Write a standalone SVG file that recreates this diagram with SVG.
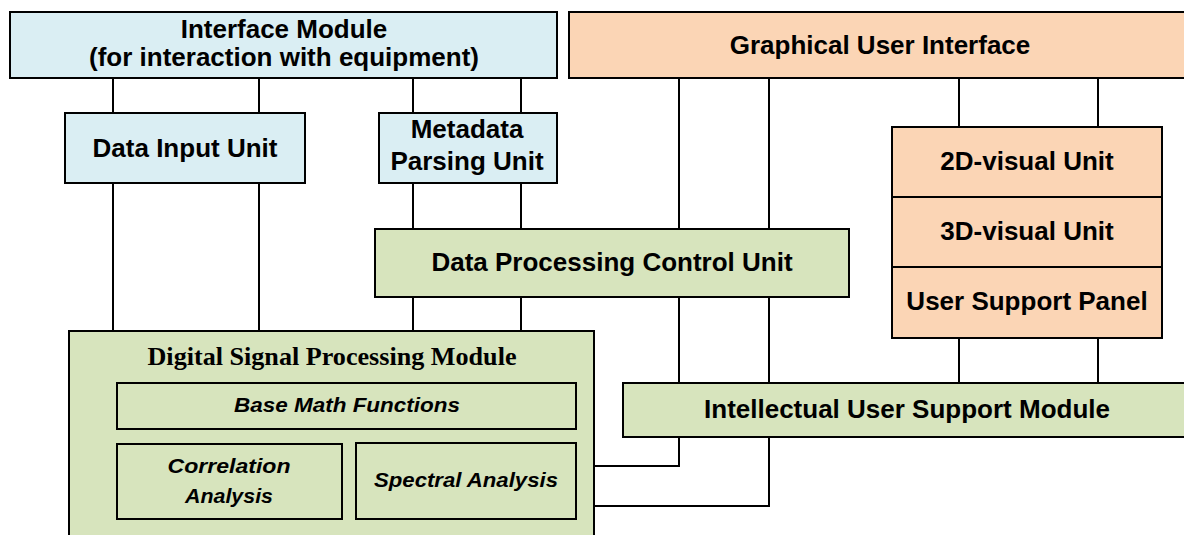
<svg xmlns="http://www.w3.org/2000/svg" width="1184" height="535" viewBox="0 0 1184 535">
<style>
.b{stroke:#000;stroke-width:2}
.blue{fill:#DAEEF3}
.org{fill:#FBD5B5}
.grn{fill:#D7E4BD}
text{font-family:"Liberation Sans",Arial,sans-serif;font-weight:bold;font-size:26px;text-anchor:middle;fill:#000}
.it{font-style:italic;font-size:20px}
.serif{font-family:"Liberation Serif","Times New Roman",serif;font-size:26px}
.ln{stroke:#000;stroke-width:2;fill:none}
</style>
<rect width="1184" height="535" fill="#fff"/>
<g id="connectors">
<line class="ln" x1="113" y1="78" x2="113" y2="113"/>
<line class="ln" x1="259" y1="78" x2="259" y2="113"/>
<line class="ln" x1="413" y1="78" x2="413" y2="113"/>
<line class="ln" x1="521" y1="78" x2="521" y2="113"/>
<line class="ln" x1="113" y1="183" x2="113" y2="331"/>
<line class="ln" x1="259" y1="183" x2="259" y2="331"/>
<line class="ln" x1="413" y1="183" x2="413" y2="229"/>
<line class="ln" x1="521" y1="183" x2="521" y2="229"/>
<line class="ln" x1="413" y1="297" x2="413" y2="331"/>
<line class="ln" x1="521" y1="297" x2="521" y2="331"/>
<line class="ln" x1="679" y1="78" x2="679" y2="229"/>
<line class="ln" x1="769" y1="78" x2="769" y2="229"/>
<line class="ln" x1="679" y1="297" x2="679" y2="383"/>
<line class="ln" x1="769" y1="297" x2="769" y2="383"/>
<line class="ln" x1="959" y1="78" x2="959" y2="127"/>
<line class="ln" x1="1098" y1="78" x2="1098" y2="127"/>
<line class="ln" x1="959" y1="338" x2="959" y2="383"/>
<line class="ln" x1="1098" y1="338" x2="1098" y2="383"/>
<polyline class="ln" points="679,437 679,466 594,466"/>
<polyline class="ln" points="769,437 769,506 594,506"/>
</g>
<g id="interface-module">
<rect class="b blue" x="10" y="12" width="547" height="66"/>
<text x="284" y="38">Interface Module</text>
<text x="284" y="66">(for interaction with equipment)</text>
</g>
<g id="gui">
<rect class="b org" x="569" y="12" width="620" height="66"/>
<text x="880" y="54">Graphical User Interface</text>
</g>
<g id="data-input-unit">
<rect class="b blue" x="65" y="113" width="240" height="70"/>
<text x="185" y="157">Data Input Unit</text>
</g>
<g id="metadata-parsing-unit">
<rect class="b blue" x="379" y="113" width="178" height="70"/>
<text x="467" y="138">Metadata</text>
<text x="467" y="170">Parsing Unit</text>
</g>
<g id="visual-2d">
<rect class="b org" x="892" y="127" width="270" height="70"/>
<text x="1027" y="170">2D-visual Unit</text>
</g>
<g id="visual-3d">
<rect class="b org" x="892" y="197" width="270" height="70"/>
<text x="1027" y="240">3D-visual Unit</text>
</g>
<g id="user-support-panel">
<rect class="b org" x="892" y="267" width="270" height="71"/>
<text x="1027" y="310">User Support Panel</text>
</g>
<g id="dpcu">
<rect class="b grn" x="375" y="229" width="474" height="68"/>
<text x="612" y="271">Data Processing Control Unit</text>
</g>
<g id="iusm">
<rect class="b grn" x="623" y="383" width="570" height="54"/>
<text x="907" y="418">Intellectual User Support Module</text>
</g>
<g id="dsp-module">
<rect class="b grn" x="69" y="331" width="525" height="215"/>
<text class="serif" x="332" y="365" textLength="369" lengthAdjust="spacingAndGlyphs">Digital Signal Processing Module</text>
</g>
<g id="base-math">
<rect class="b grn" x="117" y="383" width="459" height="46"/>
<text class="it" x="347" y="412" textLength="226" lengthAdjust="spacingAndGlyphs">Base Math Functions</text>
</g>
<g id="correlation">
<rect class="b grn" x="117" y="444" width="225" height="75"/>
<text class="it" x="229" y="473" textLength="123" lengthAdjust="spacingAndGlyphs">Correlation</text>
<text class="it" x="229" y="503" textLength="88" lengthAdjust="spacingAndGlyphs">Analysis</text>
</g>
<g id="spectral">
<rect class="b grn" x="356" y="443" width="220" height="76"/>
<text class="it" x="466" y="487" textLength="184" lengthAdjust="spacingAndGlyphs">Spectral Analysis</text>
</g>
</svg>
